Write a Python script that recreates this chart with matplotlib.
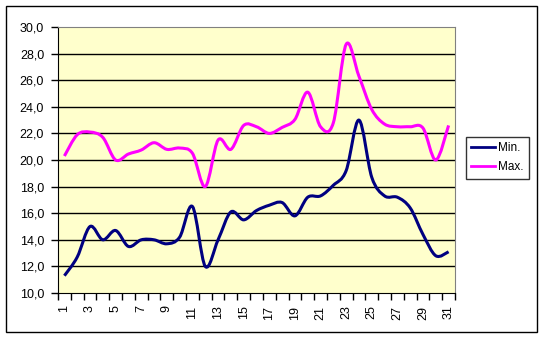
import matplotlib
matplotlib.use("Agg")
import matplotlib.pyplot as plt
import numpy as np
from matplotlib.path import Path
from matplotlib.patches import PathPatch, Rectangle
from matplotlib.lines import Line2D

plt.rcParams["font.family"] = ["Liberation Sans", "DejaVu Sans"]

days = list(range(1, 32))
t_min = [11.3, 12.7, 15.0, 14.0, 14.7, 13.5, 14.0, 14.0, 13.7, 14.2,
         16.5, 12.0, 14.0, 16.1, 15.5, 16.2, 16.6, 16.8, 15.8, 17.2,
         17.3, 18.1, 19.2, 23.0, 18.7, 17.3, 17.2, 16.4, 14.4, 12.8, 13.1]
t_max = [20.3, 21.9, 22.1, 21.7, 20.0, 20.45, 20.75, 21.3, 20.8, 20.9,
         20.5, 18.0, 21.5, 20.8, 22.6, 22.5, 22.0, 22.45, 23.05, 25.1,
         22.5, 22.8, 28.7, 26.3, 23.8, 22.7, 22.5, 22.5, 22.4, 20.0, 22.6]
series = [("Min.", t_min, "#000080"), ("Max.", t_max, "#ff00ff")]


def smooth_path(xs, ys):
    # bezier through the points, like the spreadsheet "smoothed line"
    pts = np.column_stack([xs, ys]).astype(float)
    n = len(pts)
    verts = [pts[0]]
    codes = [Path.MOVETO]
    for i in range(n - 1):
        p0 = pts[max(i - 1, 0)]
        p1 = pts[i]
        p2 = pts[i + 1]
        p3 = pts[min(i + 2, n - 1)]
        verts += [p1 + (p2 - p0) / 6, p2 - (p3 - p1) / 6, p2]
        codes += [Path.CURVE4] * 3
    return Path(verts, codes)


fig = plt.figure(figsize=(5.43, 3.38), dpi=100)
fig.patches.append(Rectangle((6 / 543, 6 / 338), 531 / 543, 326 / 338,
                             transform=fig.transFigure, fill=False,
                             edgecolor="black", linewidth=1.0))

ax = fig.add_axes([58 / 543, 45 / 338, 397 / 543, 266 / 338])
ax.set_facecolor("#ffffcc")

for name, vals, col in series:
    ax.add_patch(PathPatch(smooth_path(days, vals), facecolor="none",
                           edgecolor=col, linewidth=2.2, capstyle="butt",
                           joinstyle="round", zorder=3))

ax.set_xlim(0.5, 31.5)
ax.set_ylim(10, 30)
yt = np.arange(10, 30.1, 2)
ax.set_yticks(yt)
ax.set_yticklabels([f"{v:.1f}".replace(".", ",") for v in yt])
for y in range(12, 30, 2):
    ax.axhline(y, color="black", linewidth=1.0, zorder=1)

ax.set_xticks(days[::2])
ax.set_xticklabels([str(d) for d in days[::2]], rotation=90)
ax.set_xticks(np.arange(0.5, 32, 1), minor=True)
ax.tick_params(axis="x", which="major", length=0, pad=9, labelsize=9)
ax.tick_params(axis="x", which="minor", length=5, width=1, direction="out")
ax.tick_params(axis="y", length=5, width=1, direction="out", labelsize=9, pad=5)

for side in ["top", "right"]:
    ax.spines[side].set_color("#808080")
for side in ["left", "bottom"]:
    ax.spines[side].set_color("black")

handles = [Line2D([], [], color=c, linewidth=2.0) for _, _, c in series]
leg = fig.legend(handles, [s[0] for s in series], loc="upper left",
                 bbox_to_anchor=(466 / 543, 1 - 137 / 338), frameon=True,
                 fancybox=False, edgecolor="black", fontsize=8.5,
                 handlelength=2.0, handletextpad=0.25, borderpad=0.45,
                 borderaxespad=0, labelspacing=0.6)
leg.get_frame().set_linewidth(1.0)

fig.savefig("out.png", dpi=100)
